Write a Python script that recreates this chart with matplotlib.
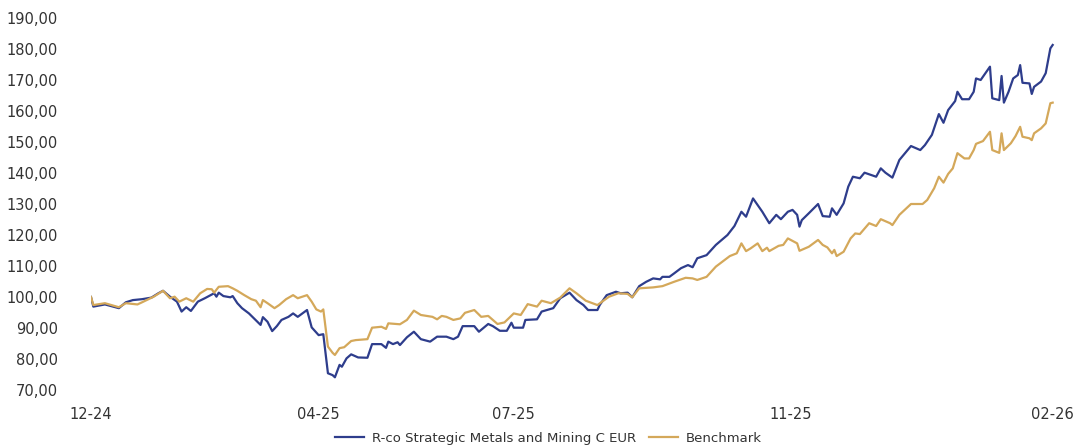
import matplotlib
matplotlib.use('Agg')
import matplotlib.pyplot as plt
from matplotlib.ticker import FuncFormatter

plt.rcParams['font.family'] = ['DejaVu Sans']

# jours depuis le début (12-24) et valeurs base 100
fund_days = [0, 1, 6, 12, 15, 18, 22, 26, 29, 31, 34, 37, 39, 41, 43, 46, 49, 53, 54, 55,
             57, 60, 61, 63, 65, 68, 73, 74, 76, 78, 80, 82, 85, 87, 89, 93, 95, 98, 100, 102,
             104, 105, 107, 108, 110, 112, 115, 119, 121, 125, 127, 128, 130, 132, 133, 136, 139, 142, 146, 149,
             153, 156, 158, 160, 165, 167, 171, 173, 176, 179, 181, 182, 186, 187, 192, 194, 199, 202, 206, 209,
             212, 214, 218, 219, 222, 226, 228, 231, 233, 236, 239, 242, 245, 246, 249, 251, 254, 257, 259, 261,
             265, 269, 274, 277, 280, 282, 285, 288, 289, 292, 295, 297, 300, 302, 304, 305, 306, 309, 313, 315,
             318, 319, 321, 324, 326, 328, 331, 333, 338, 340, 342, 345, 348, 353, 357, 359, 362, 365, 367, 369,
             372, 373, 375, 378, 380, 381, 383, 387, 388, 391, 392, 393, 395, 397, 399, 400, 401, 404, 405, 406,
             409, 411, 413, 414]
fund_vals = [100.0, 96.9, 97.6, 96.4, 98.3, 99.0, 99.3, 99.8, 101.2, 102.0, 100.1, 98.5, 95.3, 96.7, 95.5, 98.5, 99.6, 101.2, 100.1, 101.4,
             100.3, 99.9, 100.3, 98.0, 96.4, 94.7, 91.0, 93.5, 92.0, 89.0, 90.6, 92.6, 93.6, 94.7, 93.6, 95.8, 90.2, 87.7, 88.0, 75.4,
             74.8, 74.1, 78.1, 77.5, 80.2, 81.5, 80.5, 80.4, 84.8, 84.8, 83.6, 85.6, 84.8, 85.4, 84.5, 87.0, 88.8, 86.4, 85.6, 87.2,
             87.2, 86.4, 87.2, 90.6, 90.6, 88.8, 91.3, 90.6, 89.1, 89.1, 91.7, 90.1, 90.1, 92.6, 92.8, 95.3, 96.4, 99.6, 101.4, 99.0,
             97.4, 95.8, 95.8, 97.4, 100.6, 101.7, 101.2, 101.4, 99.9, 103.5, 104.9, 106.0, 105.7, 106.5, 106.5, 107.6, 109.3, 110.3, 109.6, 112.5,
             113.5, 116.8, 120.0, 122.9, 127.5, 125.9, 131.8, 128.6, 127.5, 123.8, 126.5, 125.1, 127.5, 128.1, 126.5, 122.7, 124.8, 127.0, 130.0, 126.1,
             125.9, 128.6, 126.5, 130.2, 135.6, 138.8, 138.3, 140.1, 138.8, 141.5, 140.1, 138.5, 144.2, 148.7, 147.4, 149.0, 152.3, 159.0, 156.2, 160.3,
             163.2, 166.2, 163.8, 163.8, 166.2, 170.5, 170.0, 174.3, 164.1, 163.5, 171.3, 162.7, 166.2, 170.5, 171.6, 174.8, 169.1, 168.9, 165.5, 167.8,
             169.5, 172.2, 180.2, 181.3]

bench_days = [0, 1, 6, 12, 15, 20, 22, 27, 31, 34, 36, 38, 41, 44, 47, 50, 52, 53, 55, 59,
              61, 63, 66, 69, 71, 73, 74, 76, 79, 81, 84, 87, 89, 93, 95, 97, 99, 100, 102, 104,
              105, 107, 109, 112, 114, 119, 121, 125, 127, 128, 133, 136, 139, 142, 147, 149, 151, 153, 156, 159,
              161, 165, 168, 171, 173, 175, 178, 182, 185, 188, 192, 194, 198, 202, 206, 209, 213, 218, 221, 223,
              227, 231, 233, 236, 242, 246, 251, 256, 259, 261, 265, 269, 275, 278, 280, 282, 284, 287, 289, 291,
              292, 296, 298, 300, 304, 305, 309, 313, 315, 317, 319, 320, 321, 324, 327, 329, 331, 335, 338, 340,
              344, 345, 348, 353, 358, 360, 363, 365, 367, 369, 371, 373, 376, 378, 380, 381, 384, 387, 388, 391,
              392, 393, 396, 398, 400, 401, 404, 405, 406, 409, 411, 413, 414]
bench_vals = [100.0, 97.4, 98.0, 96.7, 98.0, 97.6, 98.3, 100.1, 102.0, 99.6, 100.1, 98.5, 99.6, 98.5, 101.2, 102.6, 102.5, 101.4, 103.3, 103.5,
              102.8, 102.0, 100.6, 99.3, 98.8, 96.7, 99.0, 98.0, 96.4, 97.4, 99.3, 100.6, 99.6, 100.6, 98.5, 96.0, 95.3, 96.0, 84.0, 82.0,
              81.3, 83.5, 83.8, 85.8, 86.1, 86.4, 90.1, 90.4, 89.7, 91.5, 91.2, 92.6, 95.6, 94.2, 93.6, 92.8, 93.9, 93.6, 92.6, 93.1,
              94.9, 95.8, 93.6, 93.9, 92.6, 91.3, 91.8, 94.7, 94.2, 97.7, 96.9, 98.8, 98.0, 99.8, 102.8, 101.2, 98.8, 97.4, 99.0, 100.1,
              101.2, 101.0, 99.9, 102.8, 103.1, 103.5, 104.9, 106.2, 106.0, 105.5, 106.5, 109.8, 113.2, 114.1, 117.3, 114.8, 115.7, 117.3, 114.8, 115.9,
              114.8, 116.5, 116.8, 118.9, 117.3, 114.9, 116.2, 118.4, 116.8, 116.0, 114.1, 115.2, 113.2, 114.6, 118.9, 120.5, 120.3, 123.8, 122.9, 125.1,
              123.8, 123.2, 126.5, 130.0, 130.0, 131.3, 135.1, 138.8, 136.9, 139.7, 141.5, 146.4, 144.7, 144.7, 147.4, 149.4, 150.3, 153.3, 147.4, 146.5,
              152.8, 147.4, 149.6, 151.9, 154.9, 151.7, 151.2, 150.6, 152.8, 154.4, 156.0, 162.5, 162.7]

tick_days = [0, 98, 182, 301, 414]
tick_labels = ['12-24', '04-25', '07-25', '11-25', '02-26']

fund_name = 'R-co Strategic Metals and Mining C EUR'
bench_name = 'Benchmark'

fig = plt.figure(figsize=(10.75, 4.48), dpi=100)
ax = fig.add_axes([91 / 1075, 1 - 390 / 448, (1055 - 91) / 1075, (390 - 18) / 448])

ax.plot(fund_days, fund_vals, color='#2e3d8c', lw=1.6, label=fund_name)
ax.plot(bench_days, bench_vals, color='#d4a85a', lw=1.6, label=bench_name)

ax.set_xlim(0, 415)
ax.set_ylim(70, 190)
ax.set_yticks(range(70, 191, 10))
ax.yaxis.set_major_formatter(FuncFormatter(lambda v, p: f'{v:.2f}'.replace('.', ',')))
ax.set_xticks(tick_days)
ax.set_xticklabels(tick_labels)
ax.tick_params(length=0, labelsize=10.5, labelcolor='#333333')
ax.tick_params(axis='x', pad=12)
ax.tick_params(axis='y', pad=24)
for s in ax.spines.values():
    s.set_visible(False)

fig.legend(loc='lower center', bbox_to_anchor=(0.51, -0.02), ncol=2, frameon=False,
           fontsize=9.5, handlelength=2.2, columnspacing=1.0, handletextpad=0.6,
           labelcolor='#333333')

fig.savefig('out.png', dpi=100)
